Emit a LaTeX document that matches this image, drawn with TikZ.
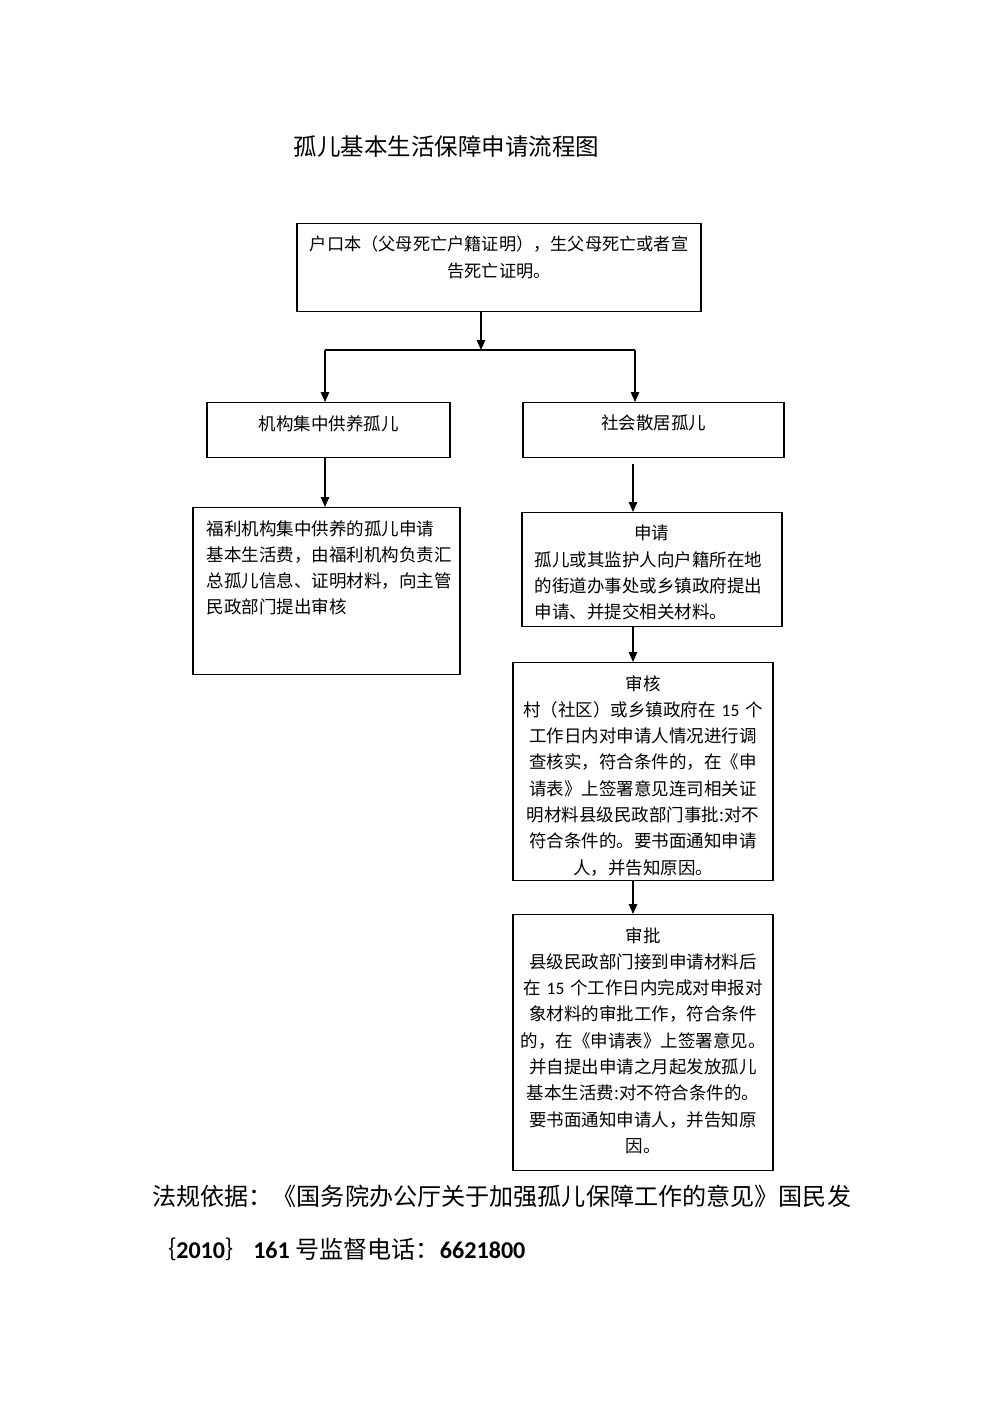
\documentclass[tikz,border=0pt]{standalone}
\usepackage{fontspec}
\setmainfont{Noto Sans CJK SC}
\newfontfamily\latin{Carlito}
\usetikzlibrary{arrows.meta,calc,positioning}
\tikzstyle{box}   =[draw, line width=1.2pt, inner sep=0pt]
\tikzstyle{edge}  =[line width=1.2pt]
\tikzstyle{arrow} =[edge, -{Triangle[length=10pt,width=8.5pt]}]
\tikzstyle{title} =[inner sep=0pt, font=\fontsize{23.5}{28}\selectfont]
\tikzstyle{foot}  =[inner sep=0pt, anchor=west,
                    font=\fontsize{24.1}{30}\selectfont]

\begin{document}
\begin{tikzpicture}[x=1pt, y=-1pt,
            every label/.style={inner sep=0pt, yshift=-13pt,
            font=\fontsize{17.5}{26.3}\selectfont}]
    \useasboundingbox (0,0) rectangle (1000,1415);

    \node[title] (title) at (446.5,147) {孤儿基本生活保障申请流程图};

    \node[box, anchor=north, minimum width=404, minimum height=88,
          label={[anchor=north, text width=390pt, align=center,
                  font=\fontsize{17.2}{26.3}\selectfont]north:{户口本（父母死亡户籍证明），生父母死亡或者宣\\告死亡证明。}}]
        (hukou) at (499,223) {};

    \node[box, anchor=north, minimum width=243, minimum height=55,
          label={[anchor=north]north:机构集中供养孤儿}] (jigou) at (328.5,402) {};
    \node[box, anchor=north, minimum width=261, minimum height=55,
          label={[anchor=north]north:社会散居孤儿}] (shehui) at (653.5,402) {};

    \node[box, anchor=north, minimum width=267, minimum height=167,
          label={[anchor=north west, xshift=14pt, text width=250pt, align=left]north west:{福利机构集中供养的孤儿申请\\基本生活费，由福利机构负责汇\\总孤儿信息、证明材料，向主管\\民政部门提出审核}}]
        (fuli) at (326.5,507) {};

    \node[box, anchor=north, minimum width=260, minimum height=114,
          label={[anchor=north west, xshift=13pt, text width=234pt, align=left]north west:{\makebox[\linewidth]{申请}\\孤儿或其监护人向户籍所在地\\的街道办事处或乡镇政府提出\\申请、并提交相关材料。}}]
        (shenqing) at (652,512) {};

    \node[box, anchor=north, minimum width=260, minimum height=218,
          label={[anchor=north, text width=250pt, align=center]north:{审核\\村（社区）或乡镇政府在 {\latin 15} 个\\工作日内对申请人情况进行调\\查核实，符合条件的，在《申\\请表》上签署意见连司相关证\\明材料县级民政部门事批:对不\\符合条件的。要书面通知申请\\人，并告知原因。}}]
        (shenhe) at (643,662) {};

    \node[box, anchor=north, minimum width=260, minimum height=256,
          label={[anchor=north, text width=250pt, align=center]north:{审批\\县级民政部门接到申请材料后\\在 {\latin 15} 个工作日内完成对申报对\\象材料的审批工作，符合条件\\的，在《申请表》上签署意见。\\并自提出申请之月起发放孤儿\\基本生活费:对不符合条件的。\\要书面通知申请人，并告知原\\因。}}]
        (shenpi) at (643,914) {};

    \coordinate (fork)  at (481,350);
    \coordinate (forkL) at (325,350);
    \coordinate (forkR) at (635,350);
    \coordinate (colR)  at (633,0);

    \draw[arrow] (hukou.south -| fork) -- (fork);
    \draw[edge]  (forkL) -- (forkR);
    \draw[arrow] (forkL) -- (jigou.north -| forkL);
    \draw[arrow] (forkR) -- (shehui.north -| forkR);
    \draw[arrow] (jigou.south -| forkL) -- (fuli.north -| forkL);
    \draw[arrow, shorten <=6pt] (shehui.south -| colR) -- (shenqing.north -| colR);
    \foreach \a/\b in {shenqing/shenhe, shenhe/shenpi}
        \draw[arrow] (\a.south -| colR) -- (\b.north -| colR);

    \node[foot] (law) at (152,1196) {法规依据：《国务院办公厅关于加强孤儿保障工作的意见》国民发};
    \node[foot] (phone) at (152,1249) {｛{\latin\bfseries 2010}｝\,{\latin\bfseries 161} 号监督电话：{\latin\bfseries 6621800}};
\end{tikzpicture}
\end{document}
